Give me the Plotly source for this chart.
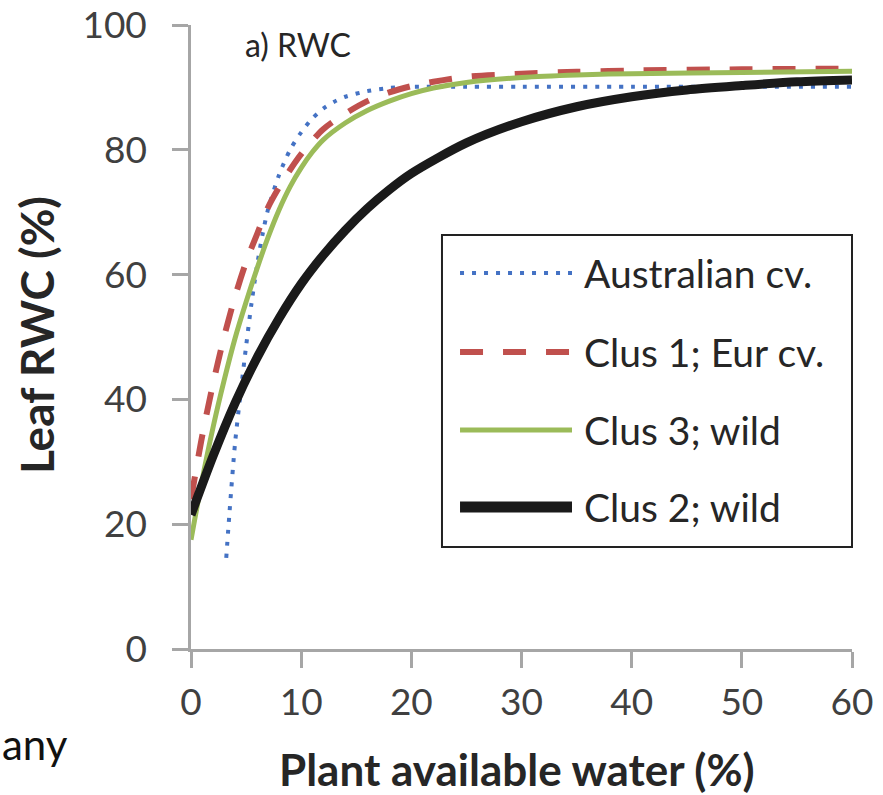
import plotly.graph_objects as go

# Leaf relative water content vs plant available water
aus_x = [3.2, 3.5, 4, 4.5, 5, 5.5, 6, 6.5, 7, 8, 9, 10, 11, 12, 13, 14, 16, 18, 20, 25, 30, 40, 50, 60]
aus_y = [14.6, 22, 33, 41, 48.5, 55.5, 61.5, 66.5, 70.5, 76, 80, 82.8, 85, 86.6, 87.7, 88.5, 89.4, 89.9,
         90.1, 90.1, 90.1, 90.1, 90.1, 90.1]

eur_x = [0, 1, 2, 3, 4, 5, 6, 7, 8, 9, 10, 12, 14, 16, 18, 20, 22, 25, 30, 35, 40, 50, 60]
eur_y = [24, 34, 42.5, 50, 56.5, 62, 66.5, 70.8, 74, 76.8, 79.3, 83.3, 85.8, 87.8, 89.2, 90.2, 90.9,
         91.7, 92.2, 92.5, 92.7, 92.9, 93]

c3_x = [0, 1, 2, 3, 4, 5, 6, 7, 8, 9, 10, 11, 12, 14, 16, 18, 20, 22, 25, 30, 35, 40, 50, 60]
c3_y = [17.5, 27, 35.5, 43, 49.8, 55.6, 61, 66, 70.4, 74.1, 77.1, 79.6, 81.6, 84.3, 86.3, 87.8, 89, 89.9,
        90.8, 91.6, 92, 92.2, 92.4, 92.6]

c2_x = [0, 2, 4, 6, 8, 10, 12, 14, 16, 18, 20, 25, 30, 35, 40, 45, 50, 55, 60]
c2_y = [21.5, 30.9, 39.4, 46.7, 53, 58.5, 63.1, 67.1, 70.6, 73.6, 76.2, 81.1, 84.5, 86.9, 88.5, 89.6,
        90.3, 90.9, 91.2]

series_names = ["Australian cv.", "Clus 1; Eur cv.", "Clus 3; wild", "Clus 2; wild"]
x_ticks = [0, 10, 20, 30, 40, 50, 60]
y_ticks = [0, 20, 40, 60, 80, 100]

styles = [
    dict(color="#4472C4", width=4, dash="4px,8px"),
    dict(color="#C0504D", width=6, dash="23px,20px"),
    dict(color="#9BBB59", width=5, dash="solid"),
    dict(color="#1A1A1A", width=9, dash="solid"),
]
data = [(aus_x, aus_y), (eur_x, eur_y), (c3_x, c3_y), (c2_x, c2_y)]

FONT = "Lato"
fig = go.Figure()
for (xs, ys), name, st in zip(data, series_names, styles):
    fig.add_trace(go.Scatter(x=xs, y=ys, name=name, mode="lines",
                             line=dict(color=st["color"], width=st["width"], dash=st["dash"],
                                       shape="spline", smoothing=0.8),
                             showlegend=False))

axis_common = dict(showline=True, linecolor="#A6A6A6", linewidth=2.5, showgrid=False,
                   zeroline=False, ticks="outside", ticklen=16, tickwidth=2.5, automargin=False,
                   tickcolor="#A6A6A6", tickfont=dict(family=FONT, size=37, color="#404040"))
fig.update_xaxes(range=[0, 60], tickvals=x_ticks, ticklabelstandoff=3, **axis_common)
fig.update_yaxes(range=[0, 100], tickvals=y_ticks, ticklabelstandoff=18, **axis_common)

# Legend drawn as a framed box with long key lines
shapes = [dict(type="rect", xref="paper", yref="paper", x0=0.3797, x1=1.0, y0=0.1635, y1=0.6635,
               line=dict(color="#222222", width=2), fillcolor="white", layer="above")]
annotations = []
row_y = [0.6026, 0.476, 0.351, 0.2276]
for name, st, ry in zip(series_names, styles, row_y):
    shapes.append(dict(type="line", xref="paper", yref="paper", x0=0.407, x1=0.5764, y0=ry, y1=ry,
                       line=dict(color=st["color"], width=st["width"] + (2 if st["width"] >= 8 else 0),
                                 dash=st["dash"]), layer="above"))
    annotations.append(dict(text=name, xref="paper", yref="paper", x=0.5915, y=ry, xanchor="left",
                            yanchor="middle", showarrow=False,
                            font=dict(family=FONT, size=39, color="#262626")))

annotations += [
    dict(text="a) RWC", xref="paper", yref="paper", x=0.0787, y=0.968, xanchor="left",
         yanchor="middle", showarrow=False, font=dict(family=FONT, size=32, color="#262626")),
    dict(text="<b>Plant available water (%)</b>", xref="paper", yref="paper", x=0.493, y=-0.193,
         xanchor="center", yanchor="middle", showarrow=False,
         font=dict(family=FONT, size=44, color="#262626")),
    dict(text="<b>Leaf RWC (%)</b>", xref="paper", yref="paper", x=-0.2345, y=0.503,
         xanchor="center", yanchor="middle", textangle=-90, showarrow=False,
         font=dict(family=FONT, size=46, color="#262626")),
    dict(text="any", xref="paper", yref="paper", x=-0.289, y=-0.152, xanchor="left",
         yanchor="middle", showarrow=False, font=dict(family=FONT, size=42, color="#111111")),
]

fig.update_layout(width=883, height=795, margin=dict(l=191, r=31, t=25, b=146),
                  plot_bgcolor="white", paper_bgcolor="white",
                  shapes=shapes, annotations=annotations, showlegend=False)

fig.write_html("out.html")
